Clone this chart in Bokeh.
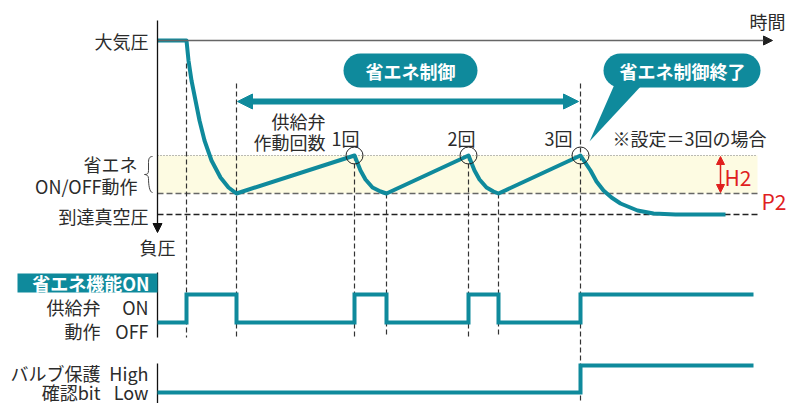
from bokeh.plotting import figure
from bokeh.models import Range1d, Arrow, NormalHead
from bokeh.core.properties import value
from bokeh.embed import file_html
from bokeh.resources import INLINE

TEAL = "#0f8a9c"
RED = "#e0201e"
INK = "#2b2b2b"
FONT = "Noto Sans CJK JP"

# ---- time positions (x) ----
t_start = 157
t_pump = 186
t_p2 = 236
t_cycles_on = [354, 468, 580]      # 1回, 2回, 3回 (valve opens)
t_cycles_off = [386, 498]          # valve closes again
t_end_pressure = 725
t_end_signal = 753
t_band_end = 757
t_axis_end = 772

# ---- pressure levels (y, larger = lower pressure) ----
lvl_atm = 40
lvl_p2h2 = 155
lvl_p2 = 193
lvl_reach = 214

# ---- pressure curve ----
pressure_t = [157, 186, 188, 191, 195, 199, 204, 211, 220, 228, 236,
              354, 356, 360, 365, 372, 380, 386,
              468, 470, 474, 479, 486, 493, 498,
              580, 584, 590, 596, 603, 611, 620, 637, 653, 675, 725]
pressure_v = [40, 40, 60, 80, 100, 120, 140, 160, 177, 187, 193,
              155, 160, 170, 179, 187, 191, 193,
              155, 160, 170, 179, 187, 191, 193,
              155, 161, 170, 181, 190, 197, 203, 210, 213, 214, 214]

# ---- digital signals ----
valve_t = [157, 186, 236, 354, 386, 468, 498, 580, 753]
valve_state = [0, 1, 0, 1, 0, 1, 0, 1, 1]
valve_lvl = {0: 322, 1: 294}
bit_t = [157, 580, 753]
bit_state = [0, 1, 1]
bit_lvl = {0: 392, 1: 365}

W, H = 787, 403
p = figure(width=W, height=H, x_range=Range1d(0, W), y_range=Range1d(H, 0),
           output_backend="svg", toolbar_location=None, min_border=0)
p.axis.visible = False
p.grid.visible = False
p.outline_line_color = None
p.background_fill_color = "white"

# band between P2 and P2+H2
p.quad(left=[t_start], right=[t_band_end], top=[lvl_p2h2], bottom=[lvl_p2],
       fill_color="#fdfbe2", line_color=None)
p.segment(x0=[t_start], y0=[lvl_p2h2], x1=[t_band_end], y1=[lvl_p2h2],
          line_color="#777777", line_width=1.2, line_dash="1 2")
p.segment(x0=[t_start], y0=[lvl_p2], x1=[t_band_end], y1=[lvl_p2],
          line_color="#666666", line_width=1.6, line_dash="6 3")
p.segment(x0=[t_start], y0=[lvl_reach], x1=[t_band_end], y1=[lvl_reach],
          line_color="#222222", line_width=1.3, line_dash="6 3")

# vertical dashed guides
vx = [t_pump, t_p2] + t_cycles_on[:2] + t_cycles_off + [t_cycles_on[2]]
vy0 = [63, 83, lvl_p2h2, lvl_p2h2, lvl_p2, lvl_p2, 83]
vy1 = [337, 337, 337, 337, 337, 337, 403]
p.segment(x0=vx, y0=vy0, x1=vx, y1=vy1, line_color="#333333", line_width=1.2,
          line_dash="5 3")

# time axis line (top) and vertical pressure axis
p.add_layout(Arrow(end=NormalHead(size=9, fill_color="#222222", line_color="#222222"),
                   x_start=t_start, y_start=lvl_atm, x_end=t_axis_end, y_end=lvl_atm,
                   line_color="#666666", line_width=1.6))
p.add_layout(Arrow(end=NormalHead(size=9, fill_color="#111111", line_color="#111111"),
                   x_start=t_start, y_start=20, x_end=t_start, y_end=232,
                   line_color="#111111", line_width=1.3))
# signal axes
p.segment(x0=[t_start, t_start], y0=[272, 363], x1=[t_start, t_start], y1=[337, 403],
          line_color="#111111", line_width=1.3)

# pressure curve
p.line(pressure_t, pressure_v, line_color=TEAL, line_width=4, line_join="round")

# circles at valve re-open points
p.scatter(x=t_cycles_on, y=[lvl_p2h2] * 3, marker="circle", size=17,
          fill_alpha=0, line_color="#222222", line_width=1)

# digital signals
p.step(valve_t, [valve_lvl[s] for s in valve_state], mode="after",
       line_color=TEAL, line_width=4, line_join="miter")
p.step(bit_t, [bit_lvl[s] for s in bit_state], mode="after",
       line_color=TEAL, line_width=4, line_join="miter")

# H2 red arrow
p.add_layout(Arrow(start=NormalHead(size=8, fill_color=RED, line_color=RED),
                   end=NormalHead(size=8, fill_color=RED, line_color=RED),
                   x_start=720, y_start=lvl_p2h2 + 1, x_end=720, y_end=lvl_p2 - 1,
                   line_color=RED, line_width=1.5))

# double teal arrow (省エネ制御 period)
p.add_layout(Arrow(start=NormalHead(size=15, fill_color=TEAL, line_color=TEAL),
                   end=NormalHead(size=15, fill_color=TEAL, line_color=TEAL),
                   x_start=t_p2 + 1, y_start=101, x_end=t_cycles_on[2] - 2, y_end=101,
                   line_color=TEAL, line_width=6))

# pills
p.quad(left=[343, 603], right=[477, 760], top=[53, 53], bottom=[87, 87],
       fill_color=TEAL, line_color=None, border_radius=17)
# callout tail
p.patch(x=[614, 642, 589], y=[84, 84, 141], fill_color=TEAL, line_color=None)

# brace
bt, bb = lvl_p2h2 + 1, lvl_p2 - 1
bm = (bt + bb) / 2
xr, xs, xc = 152, 148, 144
p.bezier(x0=[xr, xs, xc, xs], y0=[bt, bm - 4, bm, bm + 4],
         x1=[xs, xc, xs, xr], y1=[bt + 6, bm, bm + 4, bb],
         cx0=[xs + 1, xs, xs - 2, xs], cy0=[bt, bm - 1, bm, bm + 10],
         cx1=[xs, xs - 1, xs, xs + 1], cy1=[bt + 2, bm, bm + 1, bb],
         line_color="#444444", line_width=1)
p.segment(x0=[xs], y0=[bt + 6], x1=[xs], y1=[bm - 4], line_color="#444444", line_width=1)


def txt(x, y, s, align="left", color=INK, size="18px", style="normal"):
    p.text(x=x, y=y, text=s, text_align=align, text_baseline="middle",
           text_color=color, text_font=value(FONT), text_font_size=size,
           text_font_style=style)


# left labels
txt([148, 137, 137, 148], [40, 163, 185, 215], ["大気圧", "省エネ", "ON/OFF動作", "到達真空圧"],
    align="right")
txt([157], [246], ["負圧"], align="center")
txt([767], [20], ["時間"], align="center")

# signal labels
p.quad(left=[17], right=[157], top=[273], bottom=[292], fill_color=TEAL, line_color=None)
txt([149], [282], ["省エネ機能ON"], align="right", color="white", style="bold")
txt([100, 100, 100, 100], [306, 330, 372, 391], ["供給弁", "動作", "バルブ保護", "確認bit"],
    align="right")
txt([148, 148, 148, 148], [306, 330, 372, 391], ["ON", "OFF", "High", "Low"], align="right")

# upper annotations
txt([325, 325], [120, 141], ["供給弁", "作動回数"], align="right")
txt([345, 461, 558], [137, 137, 137], ["1回", "2回", "3回"], align="center")
txt([612], [137], ["※設定＝3回の場合"])
txt([724], [176], ["H2"], color=RED, size="21px")
txt([761], [200], ["P2"], color=RED, size="21px")

# pill texts
txt([410, 682], [70, 70], ["省エネ制御", "省エネ制御終了"], align="center", color="white",
    style="bold")

open("out.html", "w").write(file_html(p, INLINE))
